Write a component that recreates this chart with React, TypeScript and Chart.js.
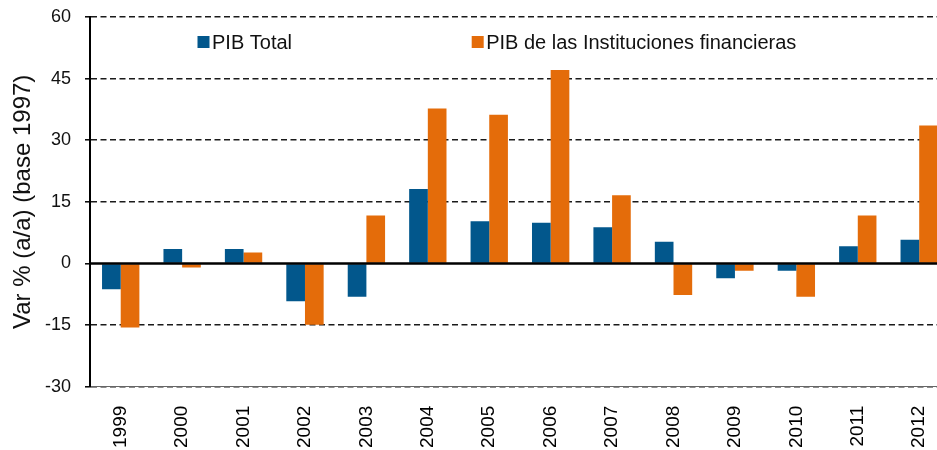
import React, { useEffect, useRef } from "react";
import { Chart, registerables } from "chart.js";

Chart.register(...registerables);

const categories = ["1999", "2000", "2001", "2002", "2003", "2004", "2005", "2006", "2007", "2008", "2009", "2010", "2011", "2012"];
const pibTotal = [-6.3, 3.5, 3.5, -9.2, -8.1, 18.1, 10.3, 9.9, 8.8, 5.3, -3.6, -1.8, 4.2, 5.8];
const pibFinancieras = [-15.6, -1.0, 2.7, -14.9, 11.7, 37.7, 36.2, 47.1, 16.6, -7.7, -1.8, -8.1, 11.7, 33.6];
const seriesNames = ["PIB Total", "PIB de las Instituciones financieras"];
const seriesColors = ["#02578C", "#E46C0A"];
const yTicks = [-30, -15, 0, 15, 30, 45, 60];
const yTitle = "Var % (a/a) (base 1997)";

const FONT = "'Liberation Sans', Arial, sans-serif";

const zeroLinePlugin = {
  id: "zeroLine",
  afterDatasetsDraw(chart: any) {
    const { ctx, chartArea, scales } = chart;
    const y = scales.y.getPixelForValue(0);
    ctx.save();
    ctx.strokeStyle = "#000";
    ctx.lineWidth = 2.5;
    ctx.beginPath();
    ctx.moveTo(chartArea.left, y);
    ctx.lineTo(chartArea.right, y);
    ctx.stroke();
    ctx.restore();
  },
};

const innerLegendPlugin = {
  id: "innerLegend",
  afterDraw(chart: any) {
    const { ctx, chartArea } = chart;
    const offsets = [107.5, 381.7];
    const top = chartArea.top + 19;
    ctx.save();
    ctx.font = `20px ${FONT}`;
    ctx.textBaseline = "middle";
    ctx.textAlign = "left";
    chart.data.datasets.forEach((ds: any, i: number) => {
      const x = chartArea.left + offsets[i];
      ctx.fillStyle = ds.backgroundColor;
      ctx.fillRect(x, top, 12, 12);
      ctx.fillStyle = "#111";
      ctx.fillText(ds.label, x + 14.5, top + 7);
    });
    ctx.restore();
  },
};

export default function App() {
  const canvasRef = useRef<HTMLCanvasElement | null>(null);

  useEffect(() => {
    if (!canvasRef.current) return;
    const chart = new Chart(canvasRef.current, {
      type: "bar",
      data: {
        labels: categories,
        datasets: [
          {
            label: seriesNames[0],
            data: pibTotal,
            backgroundColor: seriesColors[0],
            borderWidth: 0,
            categoryPercentage: 0.608,
            barPercentage: 1.0,
          },
          {
            label: seriesNames[1],
            data: pibFinancieras,
            backgroundColor: seriesColors[1],
            borderWidth: 0,
            categoryPercentage: 0.608,
            barPercentage: 1.0,
          },
        ],
      },
      options: {
        responsive: false,
        animation: false,
        maintainAspectRatio: false,
        layout: { padding: { top: 17, left: 0, right: 0, bottom: 0 } },
        plugins: {
          legend: { display: false },
          tooltip: { enabled: false },
        },
        scales: {
          x: {
            grid: { display: false, drawTicks: false },
            border: { display: true, color: "#666", width: 1 },
            ticks: {
              minRotation: 90,
              maxRotation: 90,
              padding: 19,
              color: "#000",
              font: { family: FONT, size: 19 },
            },
            afterFit(scale: any) {
              scale.height = 63.3;
            },
          },
          y: {
            min: -30,
            max: 60,
            afterBuildTicks(scale: any) {
              scale.ticks = yTicks.map((v) => ({ value: v }));
            },
            grid: {
              color: (c: any) => (c.tick && c.tick.value === 0 ? "rgba(0,0,0,0)" : "#1a1a1a"),
              lineWidth: 1.6,
              tickColor: "#000",
              tickLength: 5,
              tickWidth: 1.5,
              tickBorderDash: [],
            },
            border: { display: true, color: "#000", width: 2, dash: [6, 3.5] },
            ticks: {
              padding: 14,
              color: "#111",
              font: { family: FONT, size: 18 },
            },
            title: {
              display: true,
              text: yTitle,
              color: "#111",
              font: { family: FONT, size: 24 },
              padding: { top: 9, bottom: 0 },
            },
            afterFit(scale: any) {
              scale.width = 90;
              scale.paddingTop = 0;
              scale.paddingBottom = 0;
            },
          },
        },
      },
      plugins: [zeroLinePlugin, innerLegendPlugin],
    });
    return () => chart.destroy();
  }, []);

  return (
    <div
      style={{
        position: "absolute",
        left: 0,
        top: 0,
        width: 937,
        height: 450,
        overflow: "hidden",
        background: "#fff",
      }}
    >
      <canvas ref={canvasRef} width={961} height={450} style={{ display: "block" }} />
    </div>
  );
}
